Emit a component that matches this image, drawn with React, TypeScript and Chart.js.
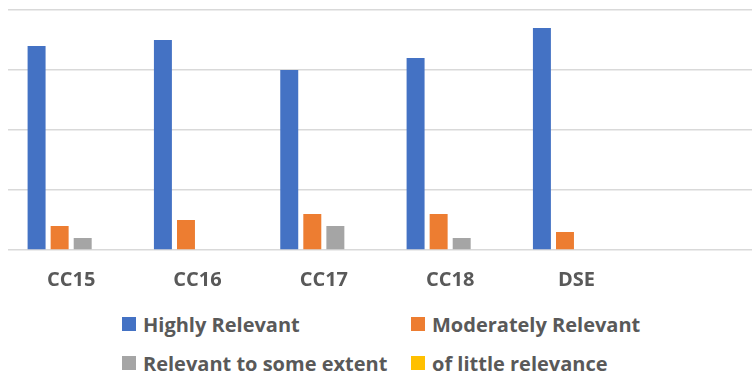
import React, { useEffect, useRef } from 'react';
import { Chart, registerables } from 'chart.js';

Chart.register(...registerables);

const categories = ['CC15', 'CC16', 'CC17', 'CC18', 'DSE', ''];
const highlyRelevant = [34, 35, 30, 32, 37, null];
const moderatelyRelevant = [4, 5, 6, 6, 3, null];
const relevantSomeExtent = [2, 0, 4, 2, 0, null];
const littleRelevance = [0, 0, 0, 0, 0, null];
const seriesNames = ['Highly Relevant', 'Moderately Relevant', 'Relevant to some extent', 'of little relevance'];
const seriesColors = ['#4472C4', '#ED7D31', '#A5A5A5', '#FFC000'];
const yMin = 0;
const yMax = 40;
const yStep = 10;

const FONT = '"Open Sans", "Noto Sans", sans-serif';
const TEXT_COLOR = '#595959';

export default function App() {
  const canvasRef = useRef<HTMLCanvasElement | null>(null);

  useEffect(() => {
    const canvas = canvasRef.current;
    if (!canvas) return;
    const seriesValues = [highlyRelevant, moderatelyRelevant, relevantSomeExtent, littleRelevance];
    const chart = new Chart(canvas, {
      type: 'bar',
      data: {
        labels: categories,
        datasets: seriesValues.map((vals, i) => ({
          label: seriesNames[i],
          data: vals,
          backgroundColor: seriesColors[i],
          borderWidth: 0,
          categoryPercentage: 0.73,
          barPercentage: 0.78,
        })),
      },
      options: {
        responsive: false,
        animation: false,
        devicePixelRatio: 1,
        layout: { padding: { top: 10, left: 0, right: 0, bottom: 0 } },
        plugins: {
          legend: { display: false },
          tooltip: { enabled: false },
          title: { display: false },
        },
        scales: {
          x: {
            grid: { display: false, drawTicks: false },
            border: { display: false },
            ticks: {
              color: TEXT_COLOR,
              font: { family: FONT, size: 20, weight: 'bold' },
              padding: 18,
              maxRotation: 0,
              autoSkip: false,
            },
            afterFit: (scale: any) => {
              scale.height = 40;
            },
          },
          y: {
            min: yMin,
            max: yMax,
            ticks: { display: false, stepSize: yStep },
            grid: { color: '#D9D9D9', lineWidth: 1.5, drawTicks: false },
            border: { display: false },
            afterFit: (scale: any) => {
              scale.width = 0;
            },
          },
        },
      },
    });
    return () => chart.destroy();
  }, []);

  const legendPos = [
    { left: 122, top: 310 },
    { left: 411, top: 310 },
    { left: 122, top: 349 },
    { left: 411, top: 349 },
  ];

  return (
    <div style={{ position: 'fixed', left: 0, top: 0, width: 752, height: 376, overflow: 'hidden', background: '#fff' }}>
      <canvas ref={canvasRef} width={758} height={290} style={{ position: 'absolute', left: 8, top: 0, width: 758, height: 290 }} />
      {seriesNames.map((name, i) => (
        <div
          key={name}
          style={{
            position: 'absolute',
            left: legendPos[i].left,
            top: legendPos[i].top,
            height: 28,
            display: 'flex',
            alignItems: 'center',
            fontFamily: FONT,
            fontWeight: 'bold',
            fontSize: 20,
            color: TEXT_COLOR,
            whiteSpace: 'nowrap',
          }}
        >
          <span style={{ display: 'inline-block', width: 14, height: 14, background: seriesColors[i], marginRight: 7 }} />
          <span>{name}</span>
        </div>
      ))}
    </div>
  );
}
